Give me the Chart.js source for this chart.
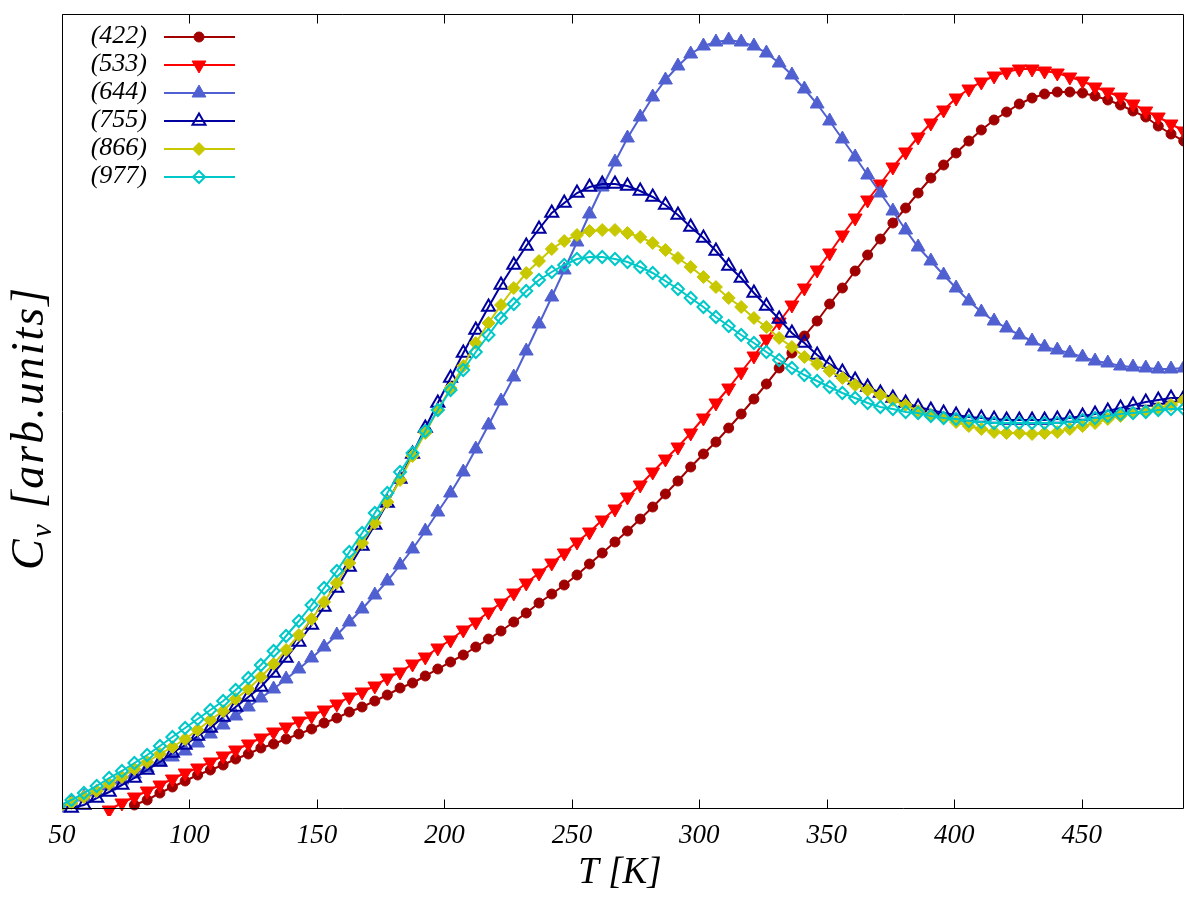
<!DOCTYPE html>
<html>
<head>
<meta charset="utf-8">
<script src="https://cdn.jsdelivr.net/npm/chart.js@4.4.1/dist/chart.umd.min.js"></script>
<style>
html,body{margin:0;padding:0;background:#ffffff;}
#wrap{width:1200px;height:900px;}
</style>
</head>
<body>
<div id="wrap"><canvas id="c" width="1200" height="900"></canvas></div>
<script>
// ---- data ----
const T_K = [48.7,53.7,58.6,63.6,68.5,73.5,78.4,83.4,88.4,93.3,
  98.3,103.2,108.2,113.2,118.1,123.1,128.0,133.0,137.9,142.9,
  147.9,152.8,157.8,162.7,167.7,172.7,177.6,182.6,187.5,192.5,
  197.4,202.4,207.4,212.3,217.3,222.2,227.2,232.1,237.1,242.1,
  247.0,252.0,256.9,261.9,266.9,271.8,276.8,281.7,286.7,291.6,
  296.6,301.6,306.5,311.5,316.4,321.4,326.3,331.3,336.3,341.2,
  346.2,351.1,356.1,361.1,366.0,371.0,375.9,380.9,385.8,390.8,
  395.8,400.7,405.7,410.6,415.6,420.5,425.5,430.5,435.4,440.4,
  445.3,450.3,455.2,460.2,465.2,470.1,475.1,480.0,485.0,490.0];

const cv422 = [null,null,null,null,null,null,3,8,15,21,
  27,33,38,43,49,54,60,64,69,74,
  79,85,90,96,101,107,113,120,125,132,
  139,146,153,161,169,177,186,195,205,214,
  223,233,244,255,266,277,289,301,314,327,
  341,354,366,380,394,409,424,440,455,472,
  487,504,520,537,553,569,585,600,615,630,
  643,655,667,678,688,696,704,710,714,716,
  716,715,712,708,703,697,691,682,674,667];

const cv533 = [null,null,null,null,-2,5,11,17,23,29,
  35,40,46,52,58,64,70,76,81,87,
  92,98,104,111,116,122,130,136,144,151,
  160,168,178,186,196,205,215,225,235,245,
  255,266,276,288,299,311,323,336,349,361,
  375,390,405,420,436,452,469,486,503,520,
  538,555,573,590,608,624,641,656,671,685,
  698,710,719,726,732,736,739,739,737,735,
  731,727,721,716,711,704,697,691,684,677];

const cv644 = [0,5,11,16,22,28,34,40,46,51,
  57,65,74,83,92,101,110,119,129,139,
  150,161,173,186,199,213,227,243,259,277,
  296,315,336,359,383,407,431,457,484,511,
  538,566,594,621,646,670,691,711,728,742,
  754,762,766,768,766,762,755,745,733,719,
  704,687,669,651,633,615,597,578,561,547,
  533,520,507,496,487,480,473,467,461,458,
  455,451,447,445,442,441,440,439,439,440];

const cv755 = [null,0,3,10,16,23,30,38,46,55,
  63,72,80,91,101,111,121,135,150,166,
  183,201,220,241,262,283,305,329,354,380,
  405,430,455,478,501,523,543,562,579,595,
  605,615,621,624,624,622,617,611,603,593,
  581,570,557,542,530,515,502,489,475,465,
  453,444,436,428,421,415,410,405,401,398,
  395,393,391,390,389,388,388,388,388,389,
  390,392,394,397,400,403,406,408,410,410];

const cv866 = [0,5,11,17,24,31,39,46,54,61,
  69,78,88,97,109,119,131,144,158,173,
  189,206,225,245,265,285,306,328,352,375,
  398,420,442,465,485,503,520,535,547,559,
  567,573,577,578,578,575,571,565,558,550,
  541,531,521,510,501,490,481,470,461,451,
  444,437,430,423,418,413,408,403,397,393,
  390,386,382,379,376,375,375,374,375,376,
  379,382,385,389,392,395,397,400,403,408];

const cv977 = [2,8,15,22,30,37,45,53,62,71,
  80,89,98,107,118,130,143,157,172,187,
  203,220,237,256,275,295,315,336,355,377,
  398,418,438,456,473,490,504,517,528,536,
  543,549,551,551,549,546,541,535,527,519,
  510,501,491,482,473,465,456,448,440,433,
  427,421,415,410,405,401,399,396,395,392,
  390,389,387,386,385,385,385,385,385,385,
  386,388,390,392,394,395,396,398,399,399];

const seriesLabels = ['(422)','(533)','(644)','(755)','(866)','(977)'];
const xTickValues = [50,100,150,200,250,300,350,400,450];
const xMin = 50, xMax = 489.7;
const yMin = 0, yMax = 794;

// ---- styles ----
const styles = [
  {color:'#a00000', fill:'#a00000', pointStyle:'circle',   radius:5,   rotation:0,   pbw:1},
  {color:'#ff0000', fill:'#ff0000', pointStyle:'triangle', radius:8,   rotation:180, pbw:1},
  {color:'#5060d0', fill:'#5060d0', pointStyle:'triangle', radius:8,   rotation:0,   pbw:1},
  {color:'#0000a0', fill:'rgba(0,0,0,0)', pointStyle:'triangle', radius:7.5, rotation:0, pbw:2},
  {color:'#c8c800', fill:'#c8c800', pointStyle:'rectRot',  radius:6.5, rotation:0,   pbw:1},
  {color:'#00c8c8', fill:'rgba(0,0,0,0)', pointStyle:'rectRot', radius:6, rotation:0, pbw:2}
];
const allSeries = [cv422, cv533, cv644, cv755, cv866, cv977];

const datasets = allSeries.map((vals, i) => ({
  label: seriesLabels[i],
  data: T_K.map((t, j) => ({x: t, y: vals[j]})),
  borderColor: styles[i].color,
  backgroundColor: styles[i].fill,
  borderWidth: 2,
  pointStyle: styles[i].pointStyle,
  pointRadius: styles[i].radius,
  pointRotation: styles[i].rotation,
  pointBackgroundColor: styles[i].fill,
  pointBorderColor: styles[i].color,
  pointBorderWidth: styles[i].pbw,
  pointHoverRadius: styles[i].radius,
  tension: 0,
  spanGaps: false,
  fill: false,
  order: allSeries.length - i,
  clip: {left: 0, top: 0, right: 0, bottom: 8}
}));

const SERIF = "'Liberation Serif', 'DejaVu Serif', serif";

function drawMarker(ctx, st, x, y) {
  ctx.save();
  ctx.fillStyle = st.fill;
  ctx.strokeStyle = st.color;
  ctx.lineWidth = st.pbw;
  if (Chart.helpers && Chart.helpers.drawPoint) {
    Chart.helpers.drawPoint(ctx, {pointStyle: st.pointStyle, radius: st.radius, rotation: st.rotation, borderWidth: st.pbw}, x, y);
  } else {
    ctx.beginPath();
    ctx.arc(x, y, st.radius, 0, Math.PI * 2);
    ctx.fill(); ctx.stroke();
  }
  ctx.restore();
}

const framePlugin = {
  id: 'frame',
  afterDatasetsDraw(chart) {
    const ctx = chart.ctx, a = chart.chartArea, xs = chart.scales.x;
    ctx.save();
    ctx.strokeStyle = '#000';
    ctx.lineWidth = 1;
    const L = Math.round(a.left) + 0.5, R = Math.round(a.right) + 0.5;
    const Tp = Math.round(a.top) + 0.5, B = Math.round(a.bottom) + 0.5;
    ctx.beginPath();
    ctx.rect(L, Tp, R - L, B - Tp);
    ctx.stroke();
    ctx.beginPath();
    xTickValues.forEach(v => {
      const px = Math.round(xs.getPixelForValue(v)) + 0.5;
      ctx.moveTo(px, B); ctx.lineTo(px, B - 9);
      ctx.moveTo(px, Tp); ctx.lineTo(px, Tp + 9);
    });
    ctx.stroke();

    // legend (key) at top-left
    const rowY0 = 37, rowDy = 28;
    ctx.font = 'italic 26px ' + SERIF;
    ctx.textAlign = 'right';
    ctx.textBaseline = 'middle';
    seriesLabels.forEach((lab, i) => {
      const y = rowY0 + i * rowDy;
      ctx.fillStyle = '#000';
      ctx.fillText(lab, 147, y - 1);
      ctx.strokeStyle = styles[i].color;
      ctx.lineWidth = 2;
      ctx.beginPath();
      ctx.moveTo(164, y); ctx.lineTo(235, y);
      ctx.stroke();
      drawMarker(ctx, styles[i], 199, y);
    });

    // axis titles
    ctx.fillStyle = '#000';
    ctx.textAlign = 'center';
    ctx.textBaseline = 'middle';
    ctx.font = 'italic 37px ' + SERIF;
    ctx.fillText('T [K]', 620, 873);

    // y title: C_v [arb.units]
    ctx.save();
    ctx.translate(28, 428);
    ctx.rotate(-Math.PI / 2);
    if ('letterSpacing' in ctx) ctx.letterSpacing = '2px';
    const bigFont = 'italic 46px ' + SERIF, smallFont = 'italic 30px ' + SERIF;
    ctx.font = bigFont; const wC = ctx.measureText('C').width;
    ctx.font = smallFont; const wv = ctx.measureText('v').width;
    ctx.font = bigFont; const wRest = ctx.measureText(' [arb.units]').width;
    const total = wC + wv + wRest;
    let xx = -total / 2;
    ctx.textAlign = 'left';
    ctx.textBaseline = 'alphabetic';
    ctx.font = bigFont; ctx.fillText('C', xx, 15); xx += wC;
    ctx.font = smallFont; ctx.fillText('v', xx, 23); xx += wv;
    ctx.font = bigFont; ctx.fillText(' [arb.units]', xx, 15);
    ctx.restore();
    ctx.restore();
  }
};

new Chart(document.getElementById('c'), {
  type: 'line',
  data: { datasets },
  plugins: [framePlugin],
  options: {
    responsive: false,
    animation: false,
    devicePixelRatio: 1,
    layout: { padding: { top: 14, right: 17, left: 0, bottom: 0 } },
    plugins: { legend: { display: false }, tooltip: { enabled: false }, title: { display: false } },
    events: [],
    scales: {
      x: {
        type: 'linear',
        min: xMin, max: xMax,
        grid: { display: false, drawTicks: false },
        border: { display: false },
        afterBuildTicks: (s) => { s.ticks = xTickValues.map(v => ({ value: v })); },
        afterFit: (s) => { s.height = 92; },
        ticks: {
          color: '#000',
          padding: 12,
          maxRotation: 0,
          autoSkip: false,
          font: { family: SERIF, size: 27, style: 'italic' },
          callback: (v) => String(v)
        }
      },
      y: {
        type: 'linear',
        min: yMin, max: yMax,
        grid: { display: false, drawTicks: false },
        border: { display: false },
        ticks: { display: false },
        afterFit: (s) => { s.width = 62; }
      }
    }
  }
});
</script>
</body>
</html>
